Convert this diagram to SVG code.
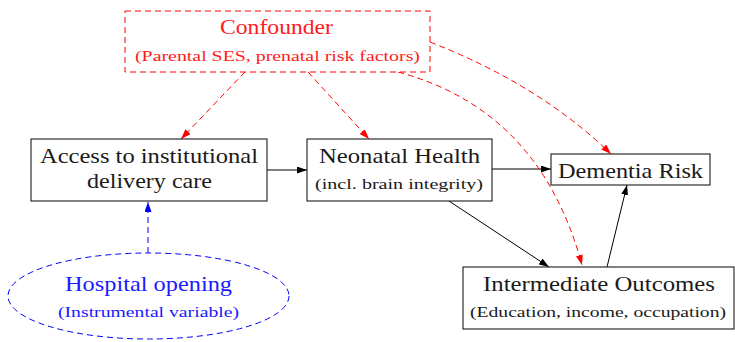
<svg xmlns="http://www.w3.org/2000/svg" width="735" height="342" viewBox="0 0 735 342">
<style>
text{font-family:"Liberation Serif","Times New Roman",serif;text-anchor:middle}
.main{font-size:22px;fill:#1a1a1a}
.sub{font-size:15px;fill:#1a1a1a}
.box{fill:#fff;stroke:#1a1a1a;stroke-width:1.1}
.red{fill:#ff1a1a}
.blue{fill:#1a1aff}
.e{fill:none;stroke:#000;stroke-width:1}
.er{fill:none;stroke:#ff0000;stroke-width:1;stroke-dasharray:6,4}
.eb{fill:none;stroke:#0000ff;stroke-width:1;stroke-dasharray:6,4}
</style>
<defs>
<marker id="ak" viewBox="0 0 10 7" refX="10" refY="3.5" markerWidth="10" markerHeight="7" markerUnits="userSpaceOnUse" orient="auto"><path d="M0,0 L10,3.5 L0,7 Z" fill="#000"/></marker>
<marker id="ar" viewBox="0 0 10 7" refX="10" refY="3.5" markerWidth="10" markerHeight="7" markerUnits="userSpaceOnUse" orient="auto"><path d="M0,0 L10,3.5 L0,7 Z" fill="#ff0000"/></marker>
<marker id="ab" viewBox="0 0 10 7" refX="10" refY="3.5" markerWidth="10" markerHeight="7" markerUnits="userSpaceOnUse" orient="auto"><path d="M0,0 L10,3.5 L0,7 Z" fill="#0000ff"/></marker>
</defs>
<rect width="735" height="342" fill="#fff"/>
<g id="connectors">
<line class="e" x1="267" y1="170" x2="307" y2="170" marker-end="url(#ak)"/>
<line class="e" x1="492" y1="169" x2="551" y2="169" marker-end="url(#ak)"/>
<line class="e" x1="449" y1="201" x2="549" y2="267" marker-end="url(#ak)"/>
<line class="e" x1="607" y1="267" x2="627" y2="185" marker-end="url(#ak)"/>
<line class="er" x1="245" y1="72" x2="181" y2="139" marker-end="url(#ar)"/>
<line class="er" x1="308" y1="72" x2="369" y2="139" marker-end="url(#ar)"/>
<path class="er" d="M430,42 Q540,85 611,154" marker-end="url(#ar)"/>
<path class="er" d="M398,72 Q540,110 582,265" marker-end="url(#ar)"/>
<line class="eb" x1="148" y1="253" x2="148" y2="202" marker-end="url(#ab)"/>
</g>
<g id="confounder">
<rect x="125" y="11" width="305" height="61" fill="#fff" stroke="#ff0000" stroke-width="1" stroke-dasharray="6,4"/>
<text class="main red" x="276.5" y="34" textLength="113" lengthAdjust="spacingAndGlyphs">Confounder</text>
<text class="sub red" x="277.5" y="61" textLength="285" lengthAdjust="spacingAndGlyphs">(Parental SES, prenatal risk factors)</text>
</g>
<g id="access">
<rect class="box" x="31" y="139" width="236" height="62"/>
<text class="main" x="149" y="163" textLength="218" lengthAdjust="spacingAndGlyphs">Access to institutional</text>
<text class="main" x="149.5" y="188" textLength="125" lengthAdjust="spacingAndGlyphs">delivery care</text>
</g>
<g id="neonatal">
<rect class="box" x="307" y="139" width="185" height="62"/>
<text class="main" x="399.5" y="163" textLength="161" lengthAdjust="spacingAndGlyphs">Neonatal Health</text>
<text class="sub" x="399" y="189" textLength="168" lengthAdjust="spacingAndGlyphs">(incl. brain integrity)</text>
</g>
<g id="dementia">
<rect class="box" x="551" y="154" width="159" height="31"/>
<text class="main" x="630.5" y="178" textLength="145" lengthAdjust="spacingAndGlyphs">Dementia Risk</text>
</g>
<g id="intermediate">
<rect class="box" x="463" y="267" width="271" height="62"/>
<text class="main" x="599" y="291" textLength="232" lengthAdjust="spacingAndGlyphs">Intermediate Outcomes</text>
<text class="sub" x="598" y="317" textLength="256" lengthAdjust="spacingAndGlyphs">(Education, income, occupation)</text>
</g>
<g id="hospital">
<ellipse cx="148.5" cy="296" rx="140.5" ry="43" fill="#fff" stroke="#0000ff" stroke-width="1" stroke-dasharray="6,4"/>
<text class="main blue" x="148.5" y="291" textLength="167" lengthAdjust="spacingAndGlyphs">Hospital opening</text>
<text class="sub blue" x="148.5" y="317" textLength="181" lengthAdjust="spacingAndGlyphs">(Instrumental variable)</text>
</g>
</svg>
